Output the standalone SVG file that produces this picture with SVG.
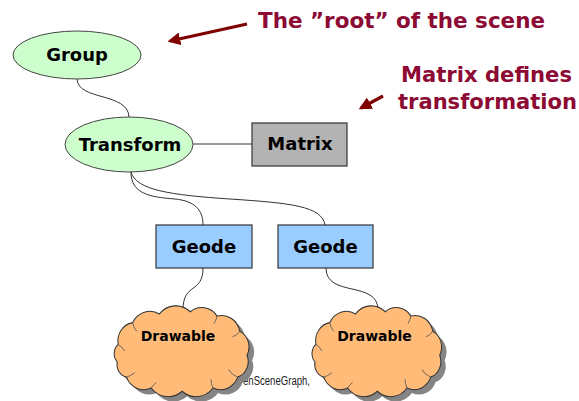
<svg xmlns="http://www.w3.org/2000/svg" width="579" height="401" viewBox="0 0 579 401">
<style>
.lbl{font-family:"DejaVu Sans","Liberation Sans",sans-serif;font-weight:bold;fill:#000;text-anchor:middle}
.note{font-family:"DejaVu Sans","Liberation Sans",sans-serif;font-weight:bold;fill:#8c0a33;font-size:21px}
.ell{fill:#ccffcc;stroke:#444;stroke-width:1}
.geode{fill:#99ccff;stroke:#333;stroke-width:1.2}
.conn{fill:none;stroke:#333;stroke-width:1}
.arrow{stroke:#800000;stroke-width:3.2;fill:none}
.cloud{fill:#ffbb77;stroke:#333;stroke-width:1}
.shadow{fill:#858585}
.inner{fill:none;stroke:#555;stroke-width:0.8}
</style>
<defs>
<marker id="ah" viewBox="0 0 10 10" refX="8" refY="5" markerWidth="4" markerHeight="4" orient="auto" markerUnits="strokeWidth">
<path d="M0,0 L10,5 L0,10 Z" fill="#800000"/>
</marker>
<path id="cloudShape" d="M8,38 A17,17 0 0 1 22,18 A19,19 0 0 1 48,10 A21,21 0 0 1 78,8 A18,18 0 0 1 104,12 A18,18 0 0 1 126,26 A16,16 0 0 1 133,48 A15,15 0 0 1 124,68 A18,18 0 0 1 100,78 A21,21 0 0 1 70,81 A21,21 0 0 1 40,78 A18,18 0 0 1 16,68 A12,12 0 0 1 7,54 A11,11 0 0 1 8,38 Z"/>
<path id="cloudInner" d="M22,18 q1,5 4,8 M104,12 q-1,4 -3,7 M126,26 q-3,4 -7,5 M124,68 q-6,-2 -9,-7 M100,78 q-2,-4 -2,-8 M40,78 q2,-3 5,-5 M16,68 q4,-1 8,-4 M8,38 q4,2 6,6"/>
</defs>

<g id="annotations">
<line class="arrow" x1="247" y1="24" x2="170" y2="41" marker-end="url(#ah)"/>
<text class="note" x="258" y="28" textLength="287" lengthAdjust="spacingAndGlyphs">The ”root” of the scene</text>
<line class="arrow" x1="383" y1="96" x2="361" y2="108" marker-end="url(#ah)"/>
<text class="note" x="401" y="82" textLength="171" lengthAdjust="spacingAndGlyphs">Matrix defines</text>
<text class="note" x="398" y="109" textLength="179" lengthAdjust="spacingAndGlyphs">transformation</text>
</g>

<text x="243" y="385" font-family="'Liberation Sans',Arial,sans-serif" font-size="12" fill="#222" textLength="67" lengthAdjust="spacingAndGlyphs">enSceneGraph,</text>

<g id="connectors">
<path class="conn" d="M77,79 C78,101 128,92 129,117"/>
<path class="conn" d="M193,144 H252"/>
<path class="conn" d="M131,172 C131,194 150,197 175,199 C195,201 203,210 203,225"/>
<path class="conn" d="M131,172 C136,190 170,195 230,199 C290,203 322,206 325,225"/>
<path class="conn" d="M203,268 C203,294 183,282 183,310"/>
<path class="conn" d="M326,268 C326,298 378,280 378,310"/>
</g>

<g id="group">
<ellipse class="ell" cx="77" cy="55" rx="64" ry="24"/>
<text class="lbl" x="77" y="61" font-size="18">Group</text>
</g>

<g id="transform">
<ellipse class="ell" cx="129" cy="144.5" rx="64" ry="27.5"/>
<text class="lbl" x="130" y="151" font-size="18">Transform</text>
</g>

<g id="matrix">
<rect x="252" y="123" width="95" height="43" fill="#b3b3b3" stroke="#333" stroke-width="1.2"/>
<text class="lbl" x="300" y="150" font-size="18">Matrix</text>
</g>

<g id="geode1">
<rect class="geode" x="156" y="225" width="96" height="43"/>
<text class="lbl" x="204" y="253" font-size="18">Geode</text>
</g>

<g id="geode2">
<rect class="geode" x="278" y="225" width="95" height="43"/>
<text class="lbl" x="325.5" y="253" font-size="18">Geode</text>
</g>

<g id="drawable1">
<g transform="translate(110,303) scale(1.03,1.09)">
<use href="#cloudShape" class="shadow" transform="translate(5,4.5)"/>
<use href="#cloudShape" class="cloud"/>
<use href="#cloudInner" class="inner"/>
</g>
<text class="lbl" x="178" y="341" font-size="14">Drawable</text>
</g>

<g id="drawable2">
<g transform="translate(308,303) scale(0.99,1.09)">
<use href="#cloudShape" class="shadow" transform="translate(5,4.5)"/>
<use href="#cloudShape" class="cloud"/>
<use href="#cloudInner" class="inner"/>
</g>
<text class="lbl" x="374.5" y="341" font-size="14">Drawable</text>
</g>
</svg>
